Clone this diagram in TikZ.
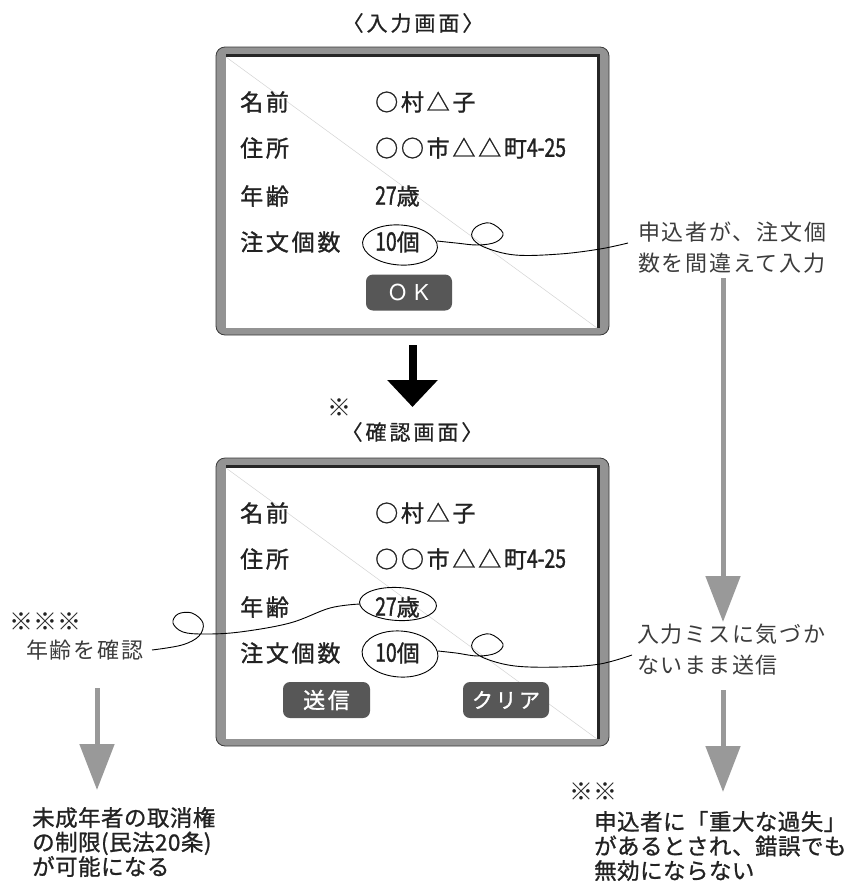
\documentclass[tikz,border=0pt]{standalone}
\usepackage{fontspec}
\usetikzlibrary{arrows.meta,shapes.geometric}
\setmainfont{Noto Sans CJK JP}
\newfontfamily\jp{Noto Sans CJK JP}
\newfontfamily\jpls[LetterSpace=12,FakeBold=1.2]{Noto Sans CJK JP}
\newfontfamily\jpnumf[FakeBold=1.2,FakeStretch=0.76]{Noto Sans CJK JP}
\newcommand{\jpnum}{\jpnumf\fontsize{25.5}{25}\selectfont}
\newfontfamily\jpttl[LetterSpace=14,FakeBold=0.8]{Noto Sans CJK JP}
\newfontfamily\jpann[LetterSpace=8]{Noto Sans CJK JP}
\newfontfamily\jpsm[LetterSpace=2,FakeBold=1]{Noto Sans CJK JP}
\newfontfamily\heros{TeX Gyre Heros}
\definecolor{fgray}{HTML}{939393}
\definecolor{fedge}{HTML}{3A3A3A}
\definecolor{agray}{HTML}{999999}
\definecolor{btngray}{HTML}{575757}
\definecolor{diag}{HTML}{D4D4D4}
\definecolor{ink}{HTML}{222222}
\definecolor{anno}{HTML}{3C3C3C}
\begin{document}
\begin{tikzpicture}[x=1pt,y=-1pt,
  scr/.style={draw=fedge,fill=fgray,line width=0.8pt,rounded corners=9pt,minimum width=393pt,minimum height=288pt,inner sep=0pt},
  lab/.style={anchor=west,inner sep=0pt,text=ink,font=\jpls\fontsize{23}{25}\selectfont},
  ttl/.style={inner sep=0pt,text=ink,font=\jpttl\fontsize{21}{24}\selectfont},
  ann/.style={anchor=west,inner sep=0pt,align=left,text=anno,font=\jpann\fontsize{22}{31}\selectfont},
  res/.style={anchor=west,inner sep=0pt,align=left,text=ink,font=\jpsm\fontsize{22.5}{24.5}\selectfont},
  star/.style={anchor=west,inner sep=0pt,text=ink,font=\jp\fontsize{24}{24}\selectfont},
  btn/.style={fill=btngray,rounded corners=7pt,inner sep=0pt,minimum height=36pt,text=white},
  circ/.style={draw=black,line width=0.9pt,ellipse,inner sep=0pt},
  curve/.style={draw=black,line width=0.9pt},
  garrow/.style={draw=agray,line width=5pt,-{Triangle[width=34pt,length=46pt]}}
]
\useasboundingbox (0,0) rectangle (853,889);

% ---------- screen 1 ----------
\node[ttl] (t1) at (413,23) {〈入力画面〉};
\node[scr] (s1) at (412.5,191) {};
\fill[white] (226,57) rectangle (597,328);
\draw[diag,line width=0.5pt] (226,57) -- (597,328);
\draw[black!85,line width=3pt] (226,55.5) -- (598.5,55.5) -- (598.5,328);

\node[lab] (n1) at (240,102) {名前};
\node[lab] (v1) at (375,102) {○村△子};
\node[lab] (n2) at (240,148) {住所};
\node[lab] (v2) at (375,148) {○○市△△町{\jpnum 4-25}};
\node[lab] (n3) at (240,196) {年齢};
\node[lab] (v3) at (375,196) {{\jpnum 27}歳};
\node[lab] (n4) at (240,242) {注文個数};
\node[lab] (v4) at (375,242) {{\jpnum 10}個};
\node[circ,minimum width=75pt,minimum height=40pt,rotate=-4] (e1) at (400,245) {};
\node[btn,minimum width=86pt,font=\heros\fontsize{22}{24}\selectfont] (ok) at (409,292.5) {O\hspace{8pt}K};

\coordinate (c1s) at (437,241);
\coordinate (c1e) at (628,243);
\draw[curve] plot[smooth,tension=0.6] coordinates {(c1s) (456,243) (478,245) (496,242) (503,233) (490,223) (476,227) (472,237) (484,247) (515,255) (560,254) (600,249) (c1e)};

\node[ann] (a1) at (638,247.5) {申込者が、注文個\\数を間違えて入力};

% ---------- arrow between screens ----------
\coordinate (ba1) at (412.5,345);
\coordinate (ba2) at (412.5,407);
\draw[black,line width=8pt,-{Triangle[width=49pt,length=27pt]}] (ba1) -- (ba2);

\node[star] (m1) at (327,408) {※};
\node[ttl] (t2) at (412,432) {〈確認画面〉};

% ---------- screen 2 ----------
\node[scr] (s2) at (412.5,602) {};
\fill[white] (226,468) rectangle (597,739);
\draw[diag,line width=0.5pt] (226,468) -- (597,739);
\draw[black!85,line width=3pt] (226,466.5) -- (598.5,466.5) -- (598.5,739);

\node[lab] (p1) at (240,513) {名前};
\node[lab] (w1) at (375,513) {○村△子};
\node[lab] (p2) at (240,559) {住所};
\node[lab] (w2) at (375,559) {○○市△△町{\jpnum 4-25}};
\node[lab] (p3) at (240,607) {年齢};
\node[lab] (w3) at (375,607) {{\jpnum 27}歳};
\node[lab] (p4) at (240,653) {注文個数};
\node[lab] (w4) at (375,653) {{\jpnum 10}個};
\node[circ,minimum width=77pt,minimum height=33pt,rotate=-3] (e2) at (398,604) {};
\node[circ,minimum width=76pt,minimum height=46pt,rotate=-4] (e3) at (400,654) {};
\node[btn,minimum width=87pt,font=\jpls\fontsize{22}{24}\selectfont] (send) at (326.5,700) {送信};
\node[btn,minimum width=86pt,font=\jpls\fontsize{21}{24}\selectfont] (clr) at (506,700) {クリア};

\coordinate (c3s) at (438,651);
\coordinate (c3e) at (632,655);
\draw[curve] plot[smooth,tension=0.6] coordinates {(c3s) (456,653) (478,656) (496,653) (503,644) (490,634) (476,638) (472,648) (484,658) (515,666) (560,667) (600,664) (c3e)};

\node[ann] (a2) at (637,650) {入力ミスに気づか\\ないまま送信};

% left annotation
\node[star] (m3) at (9,622) {※※※};
\node[ann] (a3) at (26,650) {年齢を確認};
\coordinate (c2s) at (152,650);
\coordinate (c2e) at (360,604);
\draw[curve] plot[smooth,tension=0.6] coordinates {(c2s) (182,645) (199,636) (203,623) (192,613) (178,614) (173,623) (183,632) (205,634) (240,632) (290,623) (330,608) (c2e)};

% gray arrows
\coordinate (ra1) at (723,278);
\coordinate (ra2) at (723,622);
\draw[garrow] (ra1) -- (ra2);
\coordinate (rb1) at (723,690);
\coordinate (rb2) at (723,792);
\draw[garrow] (rb1) -- (rb2);
\coordinate (la1) at (97,688);
\coordinate (la2) at (97,790);
\draw[garrow] (la1) -- (la2);

% results
\node[res] (r1) at (32,842) {未成年者の取消権\\の制限(民法20条)\\が可能になる};
\node[star] (m2) at (569,792) {※※};
\node[res] (r2) at (594,846) {申込者に「重大な過失」\\があるとされ、錯誤でも\\無効にならない};
\end{tikzpicture}
\end{document}
